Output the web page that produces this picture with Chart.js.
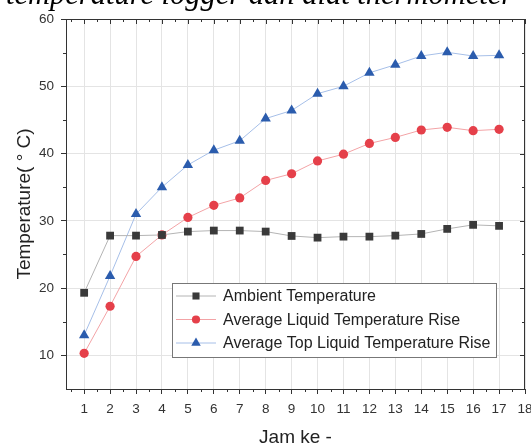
<!DOCTYPE html>
<html>
<head>
<meta charset="utf-8">
<script src="https://cdn.jsdelivr.net/npm/chart.js@4"></script>
<style>
  html, body { margin: 0; padding: 0; background: #fff; }
  #wrap { width: 531px; height: 444px; }
</style>
</head>
<body>
<div id="wrap"><canvas id="tempChart" width="531" height="444"></canvas></div>
<script>
// hours on the x axis
let hours = [1, 2, 3, 4, 5, 6, 7, 8, 9, 10, 11, 12, 13, 14, 15, 16, 17];

// temperature series (deg C)
let ambientTemp = [19.3, 27.8, 27.8, 27.9, 28.4, 28.55, 28.55, 28.4, 27.75, 27.5, 27.65, 27.65, 27.8, 28.05, 28.8, 29.4, 29.25];
let liquidRise = [10.3, 17.3, 24.7, 27.9, 30.5, 32.3, 33.4, 36.0, 37.0, 38.9, 39.9, 41.5, 42.4, 43.5, 43.9, 43.4, 43.6];
let topLiquidRise = [13.0, 21.8, 31.0, 35.0, 38.3, 40.5, 41.9, 45.2, 46.4, 48.9, 50.0, 52.0, 53.2, 54.5, 55.05, 54.5, 54.6];

let seriesNames = [
  "Ambient Temperature",
  "Average Liquid Temperature Rise",
  "Average Top Liquid Temperature Rise",
];

let xTicks = [1, 2, 3, 4, 5, 6, 7, 8, 9, 10, 11, 12, 13, 14, 15, 16, 17, 18];
let yTicks = [10, 20, 30, 40, 50, 60];

function toPoints(values) {
  return values.map(function (v, i) {
    return { x: hours[i], y: v };
  });
}

// frame, minor ticks, cropped heading and the legend box
let extrasPlugin = {
  id: "extras",
  afterDraw: function (chart) {
    let ctx = chart.ctx;
    let a = chart.chartArea;
    let xs = chart.scales.x;
    let ys = chart.scales.y;
    ctx.save();

    // frame
    ctx.strokeStyle = "#333";
    ctx.lineWidth = 1;
    ctx.strokeRect(a.left + 0.5, a.top + 0.5, a.right - a.left - 1, a.bottom - a.top);

    // major ticks on top / right, minor ticks everywhere
    ctx.beginPath();
    xTicks.forEach(function (t) {
      let px = Math.round(xs.getPixelForValue(t)) + 0.5;
      ctx.moveTo(px, a.top);
      ctx.lineTo(px, a.top + 5);
      let mx = Math.round(xs.getPixelForValue(t - 0.5)) + 0.5;
      if (mx > a.left) {
        ctx.moveTo(mx, a.bottom);
        ctx.lineTo(mx, a.bottom + 3);
        ctx.moveTo(mx, a.top);
        ctx.lineTo(mx, a.top + 3);
      }
    });
    yTicks.forEach(function (t) {
      let py = Math.round(ys.getPixelForValue(t)) + 0.5;
      ctx.moveTo(a.right, py);
      ctx.lineTo(a.right - 5, py);
      let my = Math.round(ys.getPixelForValue(t - 5)) + 0.5;
      if (my < a.bottom) {
        ctx.moveTo(a.left, my);
        ctx.lineTo(a.left - 3, my);
        ctx.moveTo(a.right, my);
        ctx.lineTo(a.right - 3, my);
      }
    });
    ctx.stroke();

    // heading from the page above, cut off at the top
    ctx.fillStyle = "#000";
    ctx.font = "italic 30.5px 'Liberation Serif', serif";
    ctx.textBaseline = "alphabetic";
    ctx.textAlign = "left";
    ctx.fillText("temperature logger dan alat thermometer", 6, 4);

    // legend
    let lx = 172, ly = 283, lw = 324, lh = 74;
    ctx.fillStyle = "#fff";
    ctx.fillRect(lx, ly, lw, lh);
    ctx.strokeStyle = "#777";
    ctx.strokeRect(lx + 0.5, ly + 0.5, lw, lh);
    ctx.font = "16px 'Liberation Sans', Arial, sans-serif";
    ctx.textBaseline = "middle";
    chart.data.datasets.forEach(function (ds, i) {
      let cy = 296 + i * 23.5;
      ctx.strokeStyle = ds.borderColor;
      ctx.lineWidth = 1;
      ctx.beginPath();
      ctx.moveTo(lx + 4, cy);
      ctx.lineTo(lx + 44, cy);
      ctx.stroke();
      ctx.fillStyle = ds.pointBackgroundColor;
      Chart.helpers.drawPoint(ctx, {
        pointStyle: ds.pointStyle,
        radius: ds.pointRadius - 0.5,
        borderWidth: 0,
      }, lx + 24, cy);
      ctx.fillStyle = "#222";
      ctx.fillText(ds.label, lx + 51, cy + 1);
    });
    ctx.restore();
  },
};

let canvas = document.querySelector("#tempChart");
let context = canvas.getContext("2d");

let tempChart = new Chart(context, {
  type: "line",
  data: {
    datasets: [
      {
        label: seriesNames[0],
        data: toPoints(ambientTemp),
        borderColor: "#b4b4b4",
        borderWidth: 1,
        pointStyle: "rect",
        pointRadius: 5.5,
        pointBackgroundColor: "#3a3a3a",
        pointBorderColor: "#3a3a3a",
        pointBorderWidth: 0,
      },
      {
        label: seriesNames[1],
        data: toPoints(liquidRise),
        borderColor: "#f3a3a6",
        borderWidth: 1,
        pointStyle: "circle",
        pointRadius: 4.6,
        pointBackgroundColor: "#e5404a",
        pointBorderColor: "#e5404a",
        pointBorderWidth: 0,
      },
      {
        label: seriesNames[2],
        data: toPoints(topLiquidRise),
        borderColor: "#a6bfe8",
        borderWidth: 1,
        pointStyle: "triangle",
        pointRadius: 6,
        pointBackgroundColor: "#2b5cad",
        pointBorderColor: "#2b5cad",
        pointBorderWidth: 0,
      },
    ],
  },
  options: {
    responsive: false,
    animation: false,
    events: [],
    layout: { padding: { top: 19, right: 5, left: 0, bottom: 0 } },
    plugins: {
      legend: { display: false },
      tooltip: { enabled: false },
    },
    scales: {
      x: {
        type: "linear",
        min: 0.3,
        max: 18,
        afterFit: function (scale) {
          scale.height = 55;
          scale.paddingRight = 0;
          scale.paddingLeft = 0;
        },
        afterBuildTicks: function (scale) {
          scale.ticks = xTicks.map(function (v) { return { value: v }; });
        },
        grid: { color: "#e4e4e4", tickColor: "#333", tickLength: 5 },
        border: { color: "#333" },
        ticks: {
          padding: 7,
          color: "#333",
          font: { family: "'Liberation Sans', Arial, sans-serif", size: 13.5 },
        },
        title: {
          display: true,
          text: "Jam ke -",
          color: "#222",
          padding: { top: 0, bottom: -5 },
          font: { family: "'Liberation Sans', Arial, sans-serif", size: 19 },
        },
      },
      y: {
        type: "linear",
        min: 5,
        max: 60,
        afterFit: function (scale) { scale.width = 66; },
        afterBuildTicks: function (scale) {
          scale.ticks = yTicks.map(function (v) { return { value: v }; });
        },
        grid: { color: "#e4e4e4", tickColor: "#333", tickLength: 5 },
        border: { color: "#333" },
        ticks: {
          padding: 7,
          color: "#333",
          font: { family: "'Liberation Sans', Arial, sans-serif", size: 13.5 },
        },
        title: {
          display: true,
          text: "Temperature( \u00b0 C)",
          color: "#222",
          padding: { top: 13, bottom: 0 },
          font: { family: "'Liberation Sans', Arial, sans-serif", size: 19 },
        },
      },
    },
  },
  plugins: [extrasPlugin],
});
</script>
</body>
</html>
